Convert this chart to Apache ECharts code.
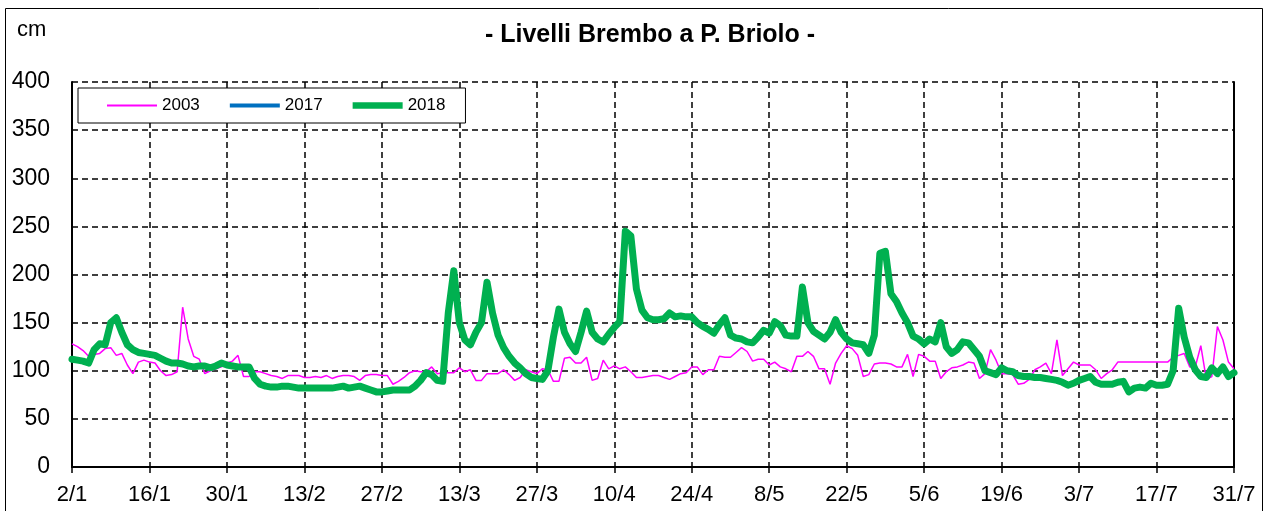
<!DOCTYPE html>
<html>
<head>
<meta charset="utf-8">
<script src="https://cdn.jsdelivr.net/npm/echarts@6/dist/echarts.min.js"></script>
<style>
html,body{margin:0;padding:0;background:#fff;}
#chart{width:1271px;height:511px;}
</style>
</head>
<body>
<div id="chart"></div>
<script>
// ---- data ----
const startDate = [2018, 0, 2];   // 2 January
const dayCount = 211;             // 2/1 .. 31/7
const seriesNames = ['2003', '2017', '2018'];
const yTicks = [0, 50, 100, 150, 200, 250, 300, 350, 400];

const levels2003 = [
  128,125,121,115,117,118,123,124,116,118,
  106,97,109,111,109,108,100,95,96,99,
  166,133,115,112,97,100,102,104,108,110,
  116,94,94,99,99,97,95,94,92,95,
  95,95,93,93,94,93,95,92,94,95,
  95,94,90,95,96,96,95,95,86,89,
  93,98,100,99,99,104,97,98,98,98,
  103,99,101,90,90,97,97,97,101,96,
  90,93,101,99,97,102,101,89,89,113,
  114,108,108,114,90,92,111,102,105,102,
  104,99,93,93,94,95,95,93,91,94,
  97,98,104,104,96,101,101,115,114,114,
  119,124,120,110,112,112,106,109,104,102,
  99,115,115,120,115,102,102,86,108,118,
  126,123,116,94,96,107,108,108,107,104,
  104,117,94,117,115,110,110,92,99,103,
  104,106,109,108,92,97,122,111,97,97,
  96,86,87,91,101,104,108,97,132,95,
  102,109,106,106,106,101,92,97,101,109,
  109,109,109,109,109,109,109,109,109,114,
  116,118,104,104,126,91,94,146,132,109,
  102
];

const levels2017 = [];   // shown in legend only

const levels2018 = [
  112,111,110,108,122,128,127,150,155,140,
  127,122,119,118,117,116,113,110,108,108,
  107,105,104,105,105,103,105,108,106,105,
  104,104,104,92,86,84,83,83,84,84,
  83,82,82,82,82,82,82,82,83,84,
  82,83,84,82,80,78,78,79,80,80,
  80,80,84,90,98,96,90,89,160,204,
  150,132,127,140,150,192,160,137,124,115,
  108,103,97,93,92,91,100,135,164,140,
  128,120,140,162,140,133,130,138,145,151,
  245,240,185,163,155,153,153,154,160,156,
  157,156,156,150,146,143,139,148,155,137,
  134,133,130,129,135,142,139,151,147,137,
  136,136,187,150,141,137,133,140,153,140,
  133,129,128,127,118,137,222,224,180,172,
  160,150,136,133,128,133,130,150,125,118,
  122,130,129,122,115,100,98,96,103,100,
  99,95,94,94,93,93,92,91,90,88,
  85,87,90,92,94,88,86,86,86,88,
  89,78,82,83,82,87,85,85,86,100,
  165,135,114,101,94,93,103,97,104,94,
  98
];

// categories: day/month labels
const categories = [];
for (let i = 0; i < dayCount; i++) {
  const d = new Date(Date.UTC(startDate[0], startDate[1], startDate[2] + i));
  categories.push(d.getUTCDate() + '/' + (d.getUTCMonth() + 1));
}

const chart = echarts.init(document.getElementById('chart'), null, {renderer: 'canvas'});
const FONT = '"Liberation Sans", Arial, sans-serif';

chart.setOption({
  animation: false,
  backgroundColor: '#fff',
  title: {
    text: '- Livelli Brembo a P. Briolo -',
    left: 645, top: 18, textAlign: 'center',
    textStyle: {fontFamily: FONT, fontWeight: 'bold', fontSize: 25, color: '#000'}
  },
  graphic: [
    {type: 'rect', shape: {x: 5.5, y: 8.5, width: 1257, height: 520},
     style: {fill: null, stroke: '#000', lineWidth: 1}, silent: true},
    {type: 'text', left: 17, top: 19,
     style: {text: 'cm', fontFamily: FONT, fontSize: 22, fill: '#000'}}
  ],
  legend: {
    data: [
      {name: seriesNames[0], icon: 'path://M0,0L48,0L48,2L0,2Z'},
      {name: seriesNames[1], icon: 'path://M0,0L50,0L50,4L0,4Z'},
      {name: seriesNames[2], icon: 'path://M0,0L52,0L52,7L0,7Z'}
    ],
    left: 78, top: 88,
    orient: 'horizontal',
    padding: [9, 20, 9, 29],
    itemGap: 30,
    itemWidth: 50, itemHeight: 14,
    borderColor: '#000', borderWidth: 1,
    backgroundColor: '#fff',
    textStyle: {fontFamily: FONT, fontSize: 17, color: '#000'}
  },
  grid: {left: 72, right: 37, top: 82, bottom: 44, containLabel: false},
  xAxis: {
    type: 'category',
    data: categories,
    boundaryGap: false,
    axisLine: {lineStyle: {color: '#000', width: 2}},
    axisTick: {show: true, interval: 13, length: 6, inside: false, lineStyle: {color: '#000', width: 1.5}},
    axisLabel: {interval: 13, fontFamily: FONT, fontSize: 22, color: '#000', margin: 17},
    splitLine: {show: true, interval: 13, lineStyle: {color: '#000', type: [6, 4], width: 1.5}}
  },
  yAxis: [{
    type: 'value', min: 0, max: 400, interval: 50,
    axisLine: {show: true, lineStyle: {color: '#000', width: 2}},
    axisTick: {show: false},
    axisLabel: {fontFamily: FONT, fontSize: 23, color: '#000', margin: 22,
      formatter: function (v) { return yTicks.indexOf(v) >= 0 ? String(v) : ''; }},
    splitLine: {show: true, lineStyle: {color: '#000', type: [6, 4], width: 1.5}}
  }, {
    type: 'value', min: 0, max: 400, interval: 50, position: 'right',
    axisLine: {show: true, lineStyle: {color: '#000', width: 2}},
    axisTick: {show: false}, axisLabel: {show: false}, splitLine: {show: false}
  }],
  series: [
    {name: '2003', type: 'line', data: levels2003, symbol: 'none', z: 3,
     lineStyle: {color: '#FF00FF', width: 1.5}, itemStyle: {color: '#FF00FF'}},
    {name: '2017', type: 'line', data: levels2017, symbol: 'none', z: 4,
     lineStyle: {color: '#0070C0', width: 3.5}, itemStyle: {color: '#0070C0'}},
    {name: '2018', type: 'line', data: levels2018, symbol: 'none', z: 5,
     lineStyle: {color: '#00B050', width: 7, join: 'round', cap: 'round'}, itemStyle: {color: '#00B050'}}
  ]
});
</script>
</body>
</html>
